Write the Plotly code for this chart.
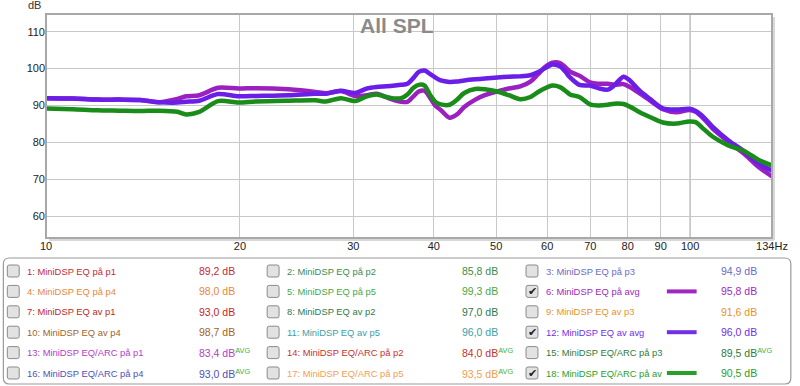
import math
import plotly.graph_objects as go

# ---------------- data ----------------
freqs = [10, 11, 12, 13, 14, 15, 16, 16.5, 17.3, 18.5, 19.9, 21.2, 23.8, 26.2, 27.2, 28.7,
         30.2, 31.5, 32.6, 33.8, 34.8, 35.6, 36.4, 37.2, 37.9, 38.7, 39.5, 40.3, 41, 42.3,
         43.4, 44.6, 46.4, 48, 50.2, 52.3, 54.5, 56.5, 58, 59.4, 61.1, 62.8, 64, 65.1, 67.3,
         69.9, 72, 74.5, 76.2, 78.8, 80.6, 83.5, 86.6, 90.7, 95.2, 99.7, 102, 105, 108.3,
         114.6, 121.9, 127.6, 134]

eq_pa_avg = [92.0, 91.9, 91.6, 91.6, 91.5, 90.9, 91.8, 92.5, 92.8, 94.8, 94.6, 94.7, 94.4, 93.7,
             93.3, 93.9, 92.6, 92.8, 93.2, 92.2, 91.4, 91.0, 91.0, 92.5, 93.8, 94.0, 92.0, 89.8,
             88.8, 86.7, 87.5, 89.6, 91.6, 92.8, 93.8, 94.6, 95.2, 96.5, 98.4, 100.3, 101.6,
             101.5, 100.4, 99.2, 98.1, 96.3, 95.9, 95.9, 95.6, 95.8, 95.0, 93.3, 91.4, 89.0,
             88.2, 88.8, 88.3, 86.4, 83.8, 80.2, 76.6, 73.4, 70.8]

eq_av_avg = [92.0, 91.9, 91.6, 91.6, 91.5, 90.9, 90.8, 91.0, 91.3, 93.1, 92.5, 92.6, 92.8, 93.2,
             93.2, 94.0, 93.4, 94.6, 95.0, 95.2, 95.4, 95.6, 95.9, 97.5, 99.1, 99.5, 98.5, 97.5,
             96.8, 96.4, 96.5, 96.8, 97.1, 97.3, 97.6, 97.8, 97.9, 98.2, 99.0, 100.0, 101.1,
             100.6, 99.2, 97.6, 95.6, 95.4, 94.7, 94.3, 95.4, 97.8, 96.8, 94.0, 91.8, 89.2,
             88.9, 89.1, 88.5, 86.8, 84.3, 80.6, 77.3, 74.3, 72.4]

eq_arc_avg = [89.2, 89.0, 88.7, 88.6, 88.5, 88.6, 88.3, 87.6, 88.3, 91.2, 90.8, 91.1, 91.3, 91.4,
              91.1, 92.0, 91.2, 92.5, 93.0, 92.3, 91.9, 92.0, 93.0, 94.8, 95.6, 95.4, 92.8, 90.9,
              90.3, 90.2, 91.5, 93.4, 94.5, 94.4, 93.8, 92.8, 91.7, 92.3, 93.6, 94.6, 95.4,
              95.0, 94.0, 93.0, 92.3, 90.3, 90.0, 90.2, 90.5, 90.4, 89.7, 88.2, 86.9, 85.4,
              85.1, 85.7, 85.5, 83.6, 81.6, 79.2, 77.5, 75.3, 73.8]

x_tickvals = [10, 20, 30, 40, 50, 60, 70, 80, 90, 100, 134]
x_ticktext = ["10", "20", "30", "40", "50", "60", "70", "80", "90", "100", "134Hz"]
y_tickvals = [60, 70, 80, 90, 100, 110]

# legend table (6 rows x 3 columns)
leg_labels = [
    ["1: MiniDSP EQ på p1", "2: MiniDSP EQ på p2", "3: MiniDSP EQ på p3"],
    ["4: MiniDSP EQ på p4", "5: MiniDSP EQ på p5", "6: MiniDSP EQ på avg"],
    ["7: MiniDSP EQ av p1", "8: MiniDSP EQ av p2", "9: MiniDSP EQ av p3"],
    ["10: MiniDSP EQ av p4", "11: MiniDSP EQ av p5", "12: MiniDSP EQ av avg"],
    ["13: MiniDSP EQ/ARC på p1", "14: MiniDSP EQ/ARC på p2", "15: MiniDSP EQ/ARC på p3"],
    ["16: MiniDSP EQ/ARC på p4", "17: MiniDSP EQ/ARC på p5", "18: MiniDSP EQ/ARC på av"],
]
leg_values = [
    ["89,2 dB", "85,8 dB", "94,9 dB"],
    ["98,0 dB", "99,3 dB", "95,8 dB"],
    ["93,0 dB", "97,0 dB", "91,6 dB"],
    ["98,7 dB", "96,0 dB", "96,0 dB"],
    ["83,4 dB", "84,0 dB", "89,5 dB"],
    ["93,0 dB", "93,5 dB", "90,5 dB"],
]
leg_avg = [
    [False, False, False],
    [False, False, False],
    [False, False, False],
    [False, False, False],
    [True, True, True],
    [True, True, False],
]
leg_colors = [
    ["#c42a3c", "#3c8c50", "#6a6ac8"],
    ["#e8883a", "#48a848", "#a028c0"],
    ["#c02828", "#2e7a50", "#e8922a"],
    ["#a0642a", "#3aa0a8", "#7030e8"],
    ["#b43cc8", "#c83030", "#2e7a40"],
    ["#5050b8", "#f0a050", "#28a028"],
]
leg_checked = [
    [False, False, False],
    [False, False, True],
    [False, False, False],
    [False, False, True],
    [False, False, False],
    [False, False, True],
]
curve_colors = {"6": "#9b20c0", "12": "#6a1ee8", "18": "#1a8c1a"}

# ---------------- geometry helpers ----------------
W, H = 800, 386
L, R, T, B = 46, 778, 14, 238


def px(x):
    return (x - L) / (R - L)


def py(y):
    return (B - y) / (B - T)


def rrect(x0, y0, x1, y1, r):
    def P(a, b):
        return f"{px(a):.5f},{py(b):.5f}"
    s = f"M {P(x0 + r, y0)} L {P(x1 - r, y0)} Q {P(x1, y0)} {P(x1, y0 + r)} "
    s += f"L {P(x1, y1 - r)} Q {P(x1, y1)} {P(x1 - r, y1)} "
    s += f"L {P(x0 + r, y1)} Q {P(x0, y1)} {P(x0, y1 - r)} "
    s += f"L {P(x0, y0 + r)} Q {P(x0, y0)} {P(x0 + r, y0)} Z"
    return s


FONT = "Liberation Sans, Arial, sans-serif"

fig = go.Figure()
for name, vals, key in [("6: MiniDSP EQ på avg", eq_pa_avg, "6"),
                        ("12: MiniDSP EQ av avg", eq_av_avg, "12"),
                        ("18: MiniDSP EQ/ARC på av", eq_arc_avg, "18")]:
    fig.add_trace(go.Scatter(x=freqs, y=vals, mode="lines", name=name,
                             line=dict(color=curve_colors[key], width=4.5, shape="spline",
                                       smoothing=0.8),
                             hoverinfo="x+y"))

shapes = []
shapes.append(dict(type="line", xref="x", yref="paper", x0=100, x1=100, y0=0, y1=1,
                   line=dict(color="#8c8c8c", width=1), layer="below"))
shapes.append(dict(type="line", xref="paper", yref="paper", x0=px(R + 2), x1=px(R + 2),
                   y0=py(B + 2), y1=py(T + 3), line=dict(color="#d8d8d8", width=2)))
shapes.append(dict(type="line", xref="paper", yref="paper", x0=px(L + 3), x1=px(R + 2),
                   y0=py(B + 2), y1=py(B + 2), line=dict(color="#d8d8d8", width=2)))
shapes.append(dict(type="rect", xref="paper", yref="paper", x0=0, x1=1, y0=0, y1=1,
                   line=dict(color="#a8a8a8", width=2)))
shapes.append(dict(type="path", xref="paper", yref="paper", path=rrect(3, 258, 797, 384, 6),
                   line=dict(color="#9a9a9a", width=1.2), fillcolor="white", layer="below"))

annotations = []
annotations.append(dict(text="All SPL", xref="paper", yref="paper", x=px(400), y=py(25.5),
                        xanchor="center", yanchor="middle", showarrow=False,
                        font=dict(family=FONT, size=21, color="#8a8a8a", weight="bold")))
annotations.append(dict(text="dB", xref="paper", yref="paper", x=px(34), y=py(5),
                        xanchor="center", yanchor="middle", showarrow=False,
                        font=dict(family=FONT, size=11, color="#333")))

row_y = [271 + 20.4 * i for i in range(6)]
box_x = [13, 275, 536]
lab_x = [25, 287, 548]
val_x = [198, 463, 725]
line_x = (672, 702)

for i in range(6):
    yc = row_y[i]
    for j in range(3):
        shapes.append(dict(type="path", xref="paper", yref="paper",
                           path=rrect(box_x[j] - 6, yc - 6, box_x[j] + 6, yc + 6, 2),
                           line=dict(color="#8a8a8a", width=1), fillcolor="#e2e2e2"))
        if leg_checked[i][j]:
            annotations.append(dict(text="✔", xref="paper", yref="paper", x=px(box_x[j] + 0.5),
                                    y=py(yc), xanchor="center", yanchor="middle",
                                    showarrow=False,
                                    font=dict(family="DejaVu Sans", size=11, color="#222")))
            shapes.append(dict(type="line", xref="paper", yref="paper",
                               x0=px(line_x[0]), x1=px(line_x[1]), y0=py(yc), y1=py(yc),
                               line=dict(color=leg_colors[i][j], width=4)))
        annotations.append(dict(text=leg_labels[i][j], xref="paper", yref="paper",
                                x=px(lab_x[j]), y=py(yc), xanchor="left", yanchor="middle",
                                showarrow=False,
                                font=dict(family=FONT, size=9.4, color=leg_colors[i][j])))
        vt = leg_values[i][j]
        if leg_avg[i][j]:
            vt += "<sup><span style='color:#40b040'>AVG</span></sup>"
        annotations.append(dict(text=vt, xref="paper", yref="paper",
                                x=px(val_x[j]), y=py(yc), xanchor="left", yanchor="middle",
                                showarrow=False,
                                font=dict(family=FONT, size=10.5, color=leg_colors[i][j])))

fig.update_layout(
    width=W, height=H,
    margin=dict(l=L, r=W - R, t=T, b=H - B),
    paper_bgcolor="white", plot_bgcolor="white",
    showlegend=False,
    xaxis=dict(type="log", range=[1, math.log10(134)], tickvals=x_tickvals,
               ticktext=x_ticktext, showgrid=True, gridcolor="#c8c8c8", gridwidth=1,
               zeroline=False, showline=False, ticks="",
               tickfont=dict(family=FONT, size=11, color="#222")),
    yaxis=dict(range=[54.1, 114.8], tickvals=y_tickvals, showgrid=True,
               gridcolor="#c8c8c8", gridwidth=1, zeroline=False, showline=False,
               ticks="", tickfont=dict(family=FONT, size=11, color="#222")),
    shapes=shapes,
    annotations=annotations,
)

fig.write_html("out.html", config={"displayModeBar": False},
               post_script="document.body.style.margin='0';document.body.style.padding='0';")
